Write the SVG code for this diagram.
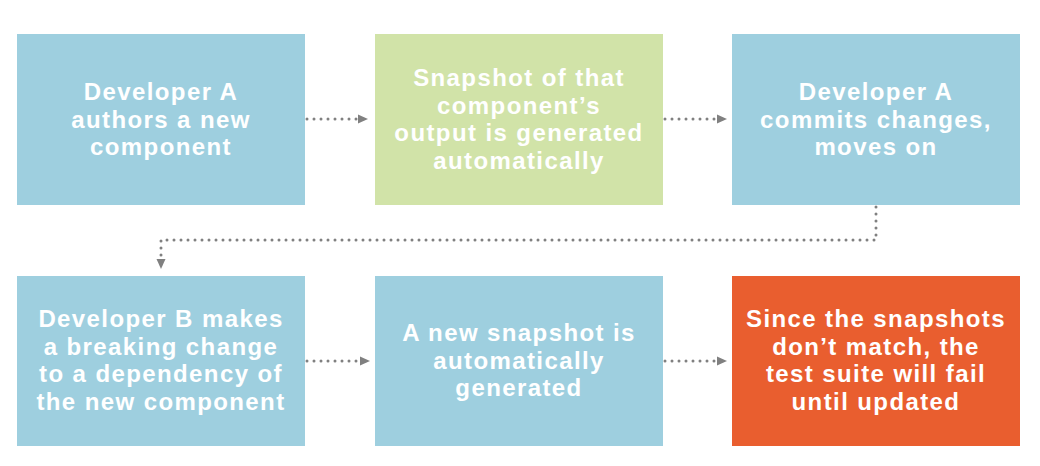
<svg xmlns="http://www.w3.org/2000/svg" width="1040" height="466" viewBox="0 0 1040 466">
<defs>
<style>
.box{stroke:none}
.blue{fill:#9ecfdf}
.green{fill:#d1e3a8}
.orange{fill:#e95e2f}
.t{font-family:"Liberation Sans",Arial,sans-serif;font-weight:bold;font-size:24px;letter-spacing:1.4px;fill:#ffffff;text-anchor:middle}
.c{fill:none;stroke:#808080;stroke-width:3;stroke-linecap:round;stroke-dasharray:0 7}
</style>
<marker id="ah" viewBox="0 0 10 10" refX="0" refY="5" markerWidth="10" markerHeight="10" markerUnits="userSpaceOnUse" orient="auto">
<path d="M0,0.5 L10,5 L0,9.5 Z" fill="#808080"/>
</marker>
</defs>
<rect width="1040" height="466" fill="#ffffff"/>
<g id="connectors">
<path class="c" d="M307,119 L358,119" marker-end="url(#ah)"/>
<path class="c" d="M665,119 L717,119" marker-end="url(#ah)"/>
<path class="c" d="M876,207 L876,240 L161,240 L161,259" marker-end="url(#ah)"/>
<path class="c" d="M307,361 L360,361" marker-end="url(#ah)"/>
<path class="c" d="M665,361 L717,361" marker-end="url(#ah)"/>
</g>
<g id="n1">
<rect class="box blue" x="17" y="34" width="288" height="171"/>
<text class="t"><tspan x="161" y="100">Developer A</tspan><tspan x="161" y="127.5">authors a new</tspan><tspan x="161" y="155">component</tspan></text>
</g>
<g id="n2">
<rect class="box green" x="375" y="34" width="288" height="171"/>
<text class="t"><tspan x="519" y="86">Snapshot of that</tspan><tspan x="519" y="113.5">component’s</tspan><tspan x="519" y="141">output is generated</tspan><tspan x="519" y="168.5">automatically</tspan></text>
</g>
<g id="n3">
<rect class="box blue" x="732" y="34" width="288" height="171"/>
<text class="t"><tspan x="876" y="100">Developer A</tspan><tspan x="876" y="127.5">commits changes,</tspan><tspan x="876" y="155">moves on</tspan></text>
</g>
<g id="n4">
<rect class="box blue" x="17" y="276" width="288" height="170"/>
<text class="t"><tspan x="161" y="327">Developer B makes</tspan><tspan x="161" y="354.5">a breaking change</tspan><tspan x="161" y="382">to a dependency of</tspan><tspan x="161" y="409.5">the new component</tspan></text>
</g>
<g id="n5">
<rect class="box blue" x="375" y="276" width="288" height="170"/>
<text class="t"><tspan x="519" y="341">A new snapshot is</tspan><tspan x="519" y="368.5">automatically</tspan><tspan x="519" y="396">generated</tspan></text>
</g>
<g id="n6">
<rect class="box orange" x="732" y="276" width="288" height="170"/>
<text class="t"><tspan x="876" y="327">Since the snapshots</tspan><tspan x="876" y="354.5">don’t match, the</tspan><tspan x="876" y="382">test suite will fail</tspan><tspan x="876" y="409.5">until updated</tspan></text>
</g>
</svg>
